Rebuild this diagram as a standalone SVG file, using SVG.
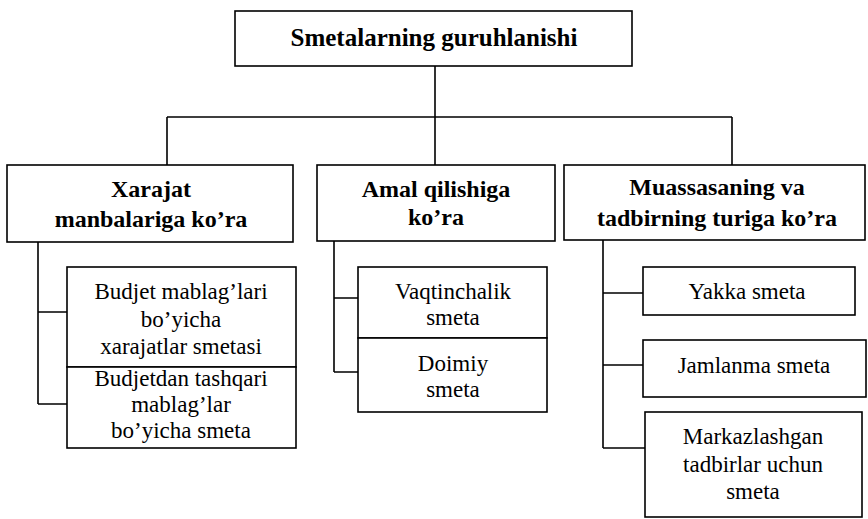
<svg xmlns="http://www.w3.org/2000/svg" width="868" height="519" viewBox="0 0 868 519">
<style>
.box{fill:#fff;stroke:#000;stroke-width:1.6}
.ln{fill:none;stroke:#000;stroke-width:1.6}
</style>
<rect width="868" height="519" fill="#fff"/>
<g id="connectors">
<path class="ln" d="M435,66 V165 M167,117 H732 M167,117 V165 M732,117 V165"/>
<path class="ln" d="M38,242 V404 M38,312 H67 M38,404 H67"/>
<path class="ln" d="M334,241 V372 M334,298 H358 M334,372 H358"/>
<path class="ln" d="M603,240 V448 M603,293 H643 M603,365 H643 M603,448 H645"/>
</g>
<g id="title">
<rect class="box" x="235" y="11" width="397" height="55"/>
<text x="434" y="46" text-anchor="middle" font-family="Times New Roman, Liberation Serif, serif" font-size="25" font-weight="bold">Smetalarning guruhlanishi</text>
</g>
<g id="h1">
<rect class="box" x="7" y="165" width="286" height="77"/>
<text x="151" y="197" text-anchor="middle" font-family="Times New Roman, Liberation Serif, serif" font-size="24" font-weight="bold">Xarajat</text>
<text x="151" y="227" text-anchor="middle" font-family="Times New Roman, Liberation Serif, serif" font-size="24" font-weight="bold">manbalariga ko’ra</text>
</g>
<g id="h2">
<rect class="box" x="317" y="165" width="238" height="76"/>
<text x="436" y="197" text-anchor="middle" font-family="Times New Roman, Liberation Serif, serif" font-size="24" font-weight="bold">Amal qilishiga</text>
<text x="436" y="225" text-anchor="middle" font-family="Times New Roman, Liberation Serif, serif" font-size="24" font-weight="bold">ko’ra</text>
</g>
<g id="h3">
<rect class="box" x="564" y="165" width="301" height="75"/>
<text x="717" y="195" text-anchor="middle" font-family="Times New Roman, Liberation Serif, serif" font-size="24" font-weight="bold">Muassasaning va</text>
<text x="717" y="226" text-anchor="middle" font-family="Times New Roman, Liberation Serif, serif" font-size="24" font-weight="bold">tadbirning turiga ko’ra</text>
</g>
<g id="b1">
<rect class="box" x="67" y="267" width="229" height="100"/>
<text x="181" y="299" text-anchor="middle" font-family="Times New Roman, Liberation Serif, serif" font-size="23">Budjet mablag’lari</text>
<text x="181" y="327" text-anchor="middle" font-family="Times New Roman, Liberation Serif, serif" font-size="23">bo’yicha</text>
<text x="181" y="354" text-anchor="middle" font-family="Times New Roman, Liberation Serif, serif" font-size="23">xarajatlar smetasi</text>
</g>
<g id="b2">
<rect class="box" x="67" y="367" width="229" height="81"/>
<text x="181" y="386" text-anchor="middle" font-family="Times New Roman, Liberation Serif, serif" font-size="23">Budjetdan tashqari</text>
<text x="181" y="412" text-anchor="middle" font-family="Times New Roman, Liberation Serif, serif" font-size="23">mablag’lar</text>
<text x="181" y="438" text-anchor="middle" font-family="Times New Roman, Liberation Serif, serif" font-size="23">bo’yicha smeta</text>
</g>
<g id="v1">
<rect class="box" x="358" y="267" width="189" height="71"/>
<text x="453" y="299" text-anchor="middle" font-family="Times New Roman, Liberation Serif, serif" font-size="23">Vaqtinchalik</text>
<text x="453" y="325" text-anchor="middle" font-family="Times New Roman, Liberation Serif, serif" font-size="23">smeta</text>
</g>
<g id="v2">
<rect class="box" x="358" y="338" width="189" height="74"/>
<text x="453" y="371" text-anchor="middle" font-family="Times New Roman, Liberation Serif, serif" font-size="23">Doimiy</text>
<text x="453" y="397" text-anchor="middle" font-family="Times New Roman, Liberation Serif, serif" font-size="23">smeta</text>
</g>
<g id="y1">
<rect class="box" x="643" y="267" width="212" height="48"/>
<text x="747" y="299" text-anchor="middle" font-family="Times New Roman, Liberation Serif, serif" font-size="23">Yakka smeta</text>
</g>
<g id="y2">
<rect class="box" x="643" y="340" width="223" height="57"/>
<text x="754" y="373" text-anchor="middle" font-family="Times New Roman, Liberation Serif, serif" font-size="23">Jamlanma smeta</text>
</g>
<g id="y3">
<rect class="box" x="645" y="412" width="217" height="105"/>
<text x="753" y="444" text-anchor="middle" font-family="Times New Roman, Liberation Serif, serif" font-size="23">Markazlashgan</text>
<text x="753" y="472" text-anchor="middle" font-family="Times New Roman, Liberation Serif, serif" font-size="23">tadbirlar uchun</text>
<text x="753" y="499" text-anchor="middle" font-family="Times New Roman, Liberation Serif, serif" font-size="23">smeta</text>
</g>
</svg>
